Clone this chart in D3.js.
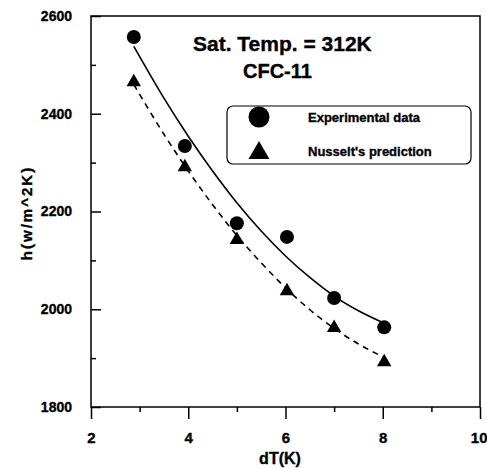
<!DOCTYPE html>
<html><head><meta charset="utf-8">
<script src="https://cdn.jsdelivr.net/npm/d3@7"></script>
<style>body{margin:0;background:#fff}svg{display:block}</style>
</head><body>
<svg id="c" width="487" height="468"></svg>
<script>
// ---- data ----
const dT = [2.88, 3.93, 5.0, 6.03, 7.0, 8.03];
const hExperimental = [2557, 2334, 2176, 2148, 2023, 1963];
const hNusselt = [2465, 2291, 2142, 2037, 1962, 1892];
const fitX = [2.88, 3.5, 4, 4.5, 5, 5.5, 6, 6.5, 7, 7.5, 8.02];
const fitExperimental = [2538, 2432, 2354, 2283, 2218, 2160, 2109, 2065, 2027, 1997, 1972];
const fitNusselt = [2460, 2358, 2283, 2214, 2151, 2095, 2044, 1999, 1961, 1929, 1902];
const xMajorTicks = [2, 4, 6, 8, 10];
const xMinorTicks = [3, 5, 7, 9];
const yMajorTicks = [1800, 2000, 2200, 2400, 2600];
const yMinorTicks = [1900, 2100, 2300, 2500];
const legendLabels = ["Experimental data", "Nusselt's prediction"];

const FONT = "'Liberation Sans', Arial, sans-serif";
const svg = d3.select("#c");
const L = 91, R = 480, T = 16, B = 407;
const x = d3.scaleLinear().domain([2, 10]).range([L, R]);
const y = d3.scaleLinear().domain([1800, 2600]).range([B, T]);

function heavy(sel, size) {
  sel.attr("font-family", FONT).attr("font-weight", "bold").attr("font-size", size)
    .attr("fill", "#000").attr("stroke", "#000").attr("stroke-width", 0.35);
  return sel;
}

// axes
const gy = svg.append("g").attr("transform", `translate(${L},0)`)
  .call(d3.axisLeft(y).tickValues(yMajorTicks).tickSize(-10).tickPadding(19).tickFormat(d3.format("d")));
const gy2 = svg.append("g").attr("transform", `translate(${L},0)`)
  .call(d3.axisLeft(y).tickValues(yMinorTicks).tickSize(-5).tickFormat(""));
const gx = svg.append("g").attr("transform", `translate(0,${B})`)
  .call(d3.axisBottom(x).tickValues(xMajorTicks).tickSize(12).tickPadding(13).tickFormat(d3.format("d")));
const gx2 = svg.append("g").attr("transform", `translate(0,${B})`)
  .call(d3.axisBottom(x).tickValues(xMinorTicks).tickSize(5).tickFormat(""));
[gy, gy2, gx, gx2].forEach(g => {
  g.select(".domain").remove();
  g.selectAll("line").attr("stroke", "#000").attr("stroke-width", 1.5);
  heavy(g.selectAll("text"), 14);
});
gx.selectAll("text").attr("font-size", 15);
gx.selectAll("text").filter(d => d === 10).attr("text-anchor", "end").attr("dx", 7);

// frame
svg.append("rect").attr("x", L).attr("y", T).attr("width", R - L).attr("height", B - T)
  .attr("fill", "none").attr("stroke", "#000").attr("stroke-width", 1.5);

// fit curves
const line = d3.line().curve(d3.curveMonotoneX);
svg.append("path")
  .attr("d", line(fitX.map((v, i) => [x(v), y(fitExperimental[i])])))
  .attr("fill", "none").attr("stroke", "#000").attr("stroke-width", 1.6);
svg.append("path")
  .attr("d", line(fitX.map((v, i) => [x(v), y(fitNusselt[i])])))
  .attr("fill", "none").attr("stroke", "#000").attr("stroke-width", 1.6)
  .attr("stroke-dasharray", "6,5");

// markers
svg.selectAll("circle.exp").data(dT).enter().append("circle")
  .attr("class", "exp").attr("cx", d => x(d)).attr("cy", (d, i) => y(hExperimental[i]))
  .attr("r", 7).attr("fill", "#000");
const tri = d3.symbol().type(d3.symbolTriangle).size(90);
svg.selectAll("path.nus").data(dT).enter().append("path")
  .attr("class", "nus").attr("d", tri)
  .attr("transform", (d, i) => `translate(${x(d)},${y(hNusselt[i])})`)
  .attr("fill", "#000");

// title
heavy(svg.append("text").attr("x", 193).attr("y", 51).text("Sat. Temp. = 312K"), 21);
heavy(svg.append("text").attr("x", 243).attr("y", 78).text("CFC-11"), 20);

// legend
svg.append("rect").attr("x", 227).attr("y", 106).attr("width", 244).attr("height", 58)
  .attr("rx", 6).attr("fill", "#fff").attr("stroke", "#000").attr("stroke-width", 1.2);
svg.append("circle").attr("cx", 259).attr("cy", 117).attr("r", 10.5).attr("fill", "#000");
svg.append("path").attr("d", d3.symbol().type(d3.symbolTriangle).size(190))
  .attr("transform", "translate(259,153)").attr("fill", "#000");
legendLabels.forEach((t, i) => {
  heavy(svg.append("text").attr("x", 308).attr("y", i === 0 ? 122 : 156).text(t), 13);
});

// axis titles
heavy(svg.append("text").attr("x", 280).attr("y", 464).attr("text-anchor", "middle").text("dT(K)"), 16);
heavy(svg.append("text").attr("transform", "translate(32,213) rotate(-90)").attr("text-anchor", "middle")
  .text("h(w/m^2K)").attr("letter-spacing", 2), 15);
</script>
</body></html>
